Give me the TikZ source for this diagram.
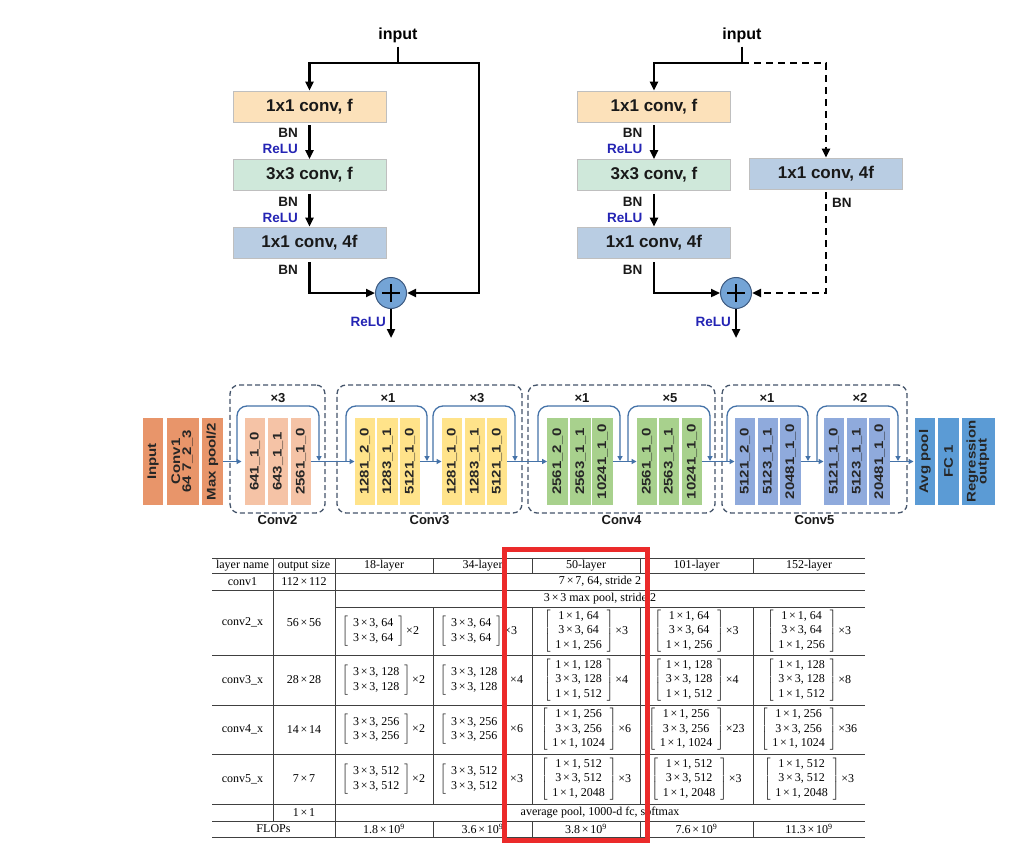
\documentclass[tikz,border=0pt]{standalone}
\usepackage{fontspec}
\setmainfont{Liberation Serif}
\newfontfamily\arial{Liberation Sans}
\usetikzlibrary{arrows.meta}
\definecolor{cA}{HTML}{FCE1BA}
\definecolor{cB}{HTML}{CFE8DA}
\definecolor{cC}{HTML}{B9CDE3}
\definecolor{reluc}{HTML}{2424B4}
\definecolor{sumfill}{HTML}{74A4D6}
\definecolor{sumdraw}{HTML}{3D5A80}
\definecolor{orgdark}{HTML}{E8956A}
\definecolor{orglight}{HTML}{F5C3A6}
\definecolor{yel}{HTML}{FFE38A}
\definecolor{grn}{HTML}{A8D18D}
\definecolor{bluv}{HTML}{8FAADC}
\definecolor{bluf}{HTML}{5B9BD5}
\definecolor{flowc}{HTML}{4472A8}
\definecolor{grpc}{HTML}{44546A}
\definecolor{redc}{HTML}{EB2A2A}
\newcommand\vtxt[1]{\rotatebox{90}{\scalebox{1.2}[1]{#1}}}
\newcommand\mytimes{\hspace{0.15em}×\hspace{0.15em}}
\newcommand\mybrk[2]{$\left[\mbox{\begin{tabular}{@{\hspace{5pt}}c@{\hspace{5pt}}}#1\end{tabular}}\right]$\hspace{2pt}×#2}
\begin{document}
\begin{tikzpicture}[x=1pt,y=-1pt,
  blk/.style={draw=black!25, line width=0.6pt, minimum width=153pt, minimum height=31pt, inner sep=0pt, font=\arial\bfseries\fontsize{17}{17}\selectfont, text=black!90},
  thk/.style={line width=2.4pt, black},
  arr/.style={-{Triangle[length=9pt,width=8pt]}},
  lbl/.style={font=\arial\bfseries\fontsize{13.5}{14}\selectfont, inner sep=0pt, text=black!90},
  relu/.style={lbl, text=reluc},
  inp/.style={font=\arial\bfseries\fontsize{16}{16}\selectfont, inner sep=2pt},
  sumc/.style={circle, minimum size=31pt, inner sep=0pt, fill=sumfill, draw=sumdraw, line width=1pt,
    path picture={\draw[line width=2.6pt,black] ([xshift=-9pt]path picture bounding box.center) -- ([xshift=9pt]path picture bounding box.center) ([yshift=-9pt]path picture bounding box.center) -- ([yshift=9pt]path picture bounding box.center);}},
  dsh/.style={dash pattern=on 7pt off 5pt},
  vb/.style={minimum width=20.5pt, minimum height=87pt, inner sep=0pt, font=\arial\bfseries\fontsize{12.5}{13}\selectfont, text=black!85},
  fl/.style={line width=1.3pt, flowc, -{Triangle[length=5pt,width=5pt]}},
  grp/.style={draw=grpc, line width=1.3pt, dash pattern=on 5pt off 3pt, rounded corners=9pt, minimum height=128pt, inner sep=0pt},
  gl/.style={font=\arial\bfseries\fontsize{13}{14}\selectfont, text=black!90, inner sep=2pt},
  ml/.style={font=\arial\bfseries\fontsize{13}{14}\selectfont, text=black!90, inner sep=0pt},
  tc/.style={font=\fontsize{12}{14.5}\selectfont, inner sep=0pt},
  tl/.style={line width=0.7pt, black!75}
]
\useasboundingbox[fill=white] (0,0) rectangle (1028,848);

% ---------- left bottleneck block ----------
\node[inp] (inL) at (398,35) {input};
\coordinate (jL) at (398,63);
\coordinate (rL) at (479,63);
\node[blk, fill=cA] (b1L) at (309.5,106.5) {1x1 conv, f};
\node[blk, fill=cB] (b2L) at (309.5,175) {3x3 conv, f};
\node[blk, fill=cC] (b3L) at (309.5,242.5) {1x1 conv, 4f};
\node[sumc] (pL) at (391,293) {};
\coordinate (oL) at (391,338);
\draw[thk] ([yshift=-2pt]inL.south) -- (jL);
\draw[thk,arr] (jL) -| (b1L.north);
\draw[thk,arr] (jL) -- (rL) |- (pL.east);
\draw[thk,arr] ([yshift=-3pt]b1L.south) -- (b2L.north);
\draw[thk,arr] ([yshift=-3pt]b2L.south) -- (b3L.north);
\draw[thk,arr] ([yshift=-4pt]b3L.south) |- (pL.west);
\draw[thk,arr] (pL.south) -- (oL);
\node[lbl, anchor=east] (bn1L) at (298,133) {BN};
\node[relu, anchor=east] (rl1L) at (298,149) {ReLU};
\node[lbl, anchor=east] (bn2L) at (298,202) {BN};
\node[relu, anchor=east] (rl2L) at (298,218) {ReLU};
\node[lbl, anchor=east] (bn3L) at (298,270) {BN};
\node[relu, anchor=east] (rl3L) at (386,322) {ReLU};

% ---------- right bottleneck block (projection) ----------
\node[inp] (inR) at (742,35) {input};
\coordinate (jR) at (742,63);
\node[blk, fill=cA] (b1R) at (654,106.5) {1x1 conv, f};
\node[blk, fill=cB] (b2R) at (654,175) {3x3 conv, f};
\node[blk, fill=cC] (b3R) at (654,242.5) {1x1 conv, 4f};
\node[blk, fill=cC] (bsR) at (826,173.5) {1x1 conv, 4f};
\node[sumc] (pR) at (736,293) {};
\coordinate (oR) at (736,338);
\draw[thk] ([yshift=-2pt]inR.south) -- (jR);
\draw[thk,arr] (jR) -| (b1R.north);
\draw[thk,dsh,arr] (jR) -| (bsR.north);
\draw[thk,dsh,arr] ([yshift=-3pt]bsR.south) |- (pR.east);
\draw[thk,arr] ([yshift=-3pt]b1R.south) -- (b2R.north);
\draw[thk,arr] ([yshift=-3pt]b2R.south) -- (b3R.north);
\draw[thk,arr] ([yshift=-4pt]b3R.south) |- (pR.west);
\draw[thk,arr] (pR.south) -- (oR);
\node[lbl, anchor=east] (bn1R) at (642.5,133) {BN};
\node[relu, anchor=east] (rl1R) at (642.5,149) {ReLU};
\node[lbl, anchor=east] (bn2R) at (642.5,202) {BN};
\node[relu, anchor=east] (rl2R) at (642.5,218) {ReLU};
\node[lbl, anchor=east] (bn3R) at (642.5,270) {BN};
\node[lbl, anchor=west] (bnsR) at (832,203) {BN};
\node[relu, anchor=east] (rl3R) at (731,322) {ReLU};

% ---------- ResNet-50 pipeline ----------
\node[grp, minimum width=95pt] (g2) at (277.5,449) {};
\node[grp, minimum width=185pt] (g3) at (429.5,449) {};
\node[grp, minimum width=187pt] (g4) at (621.5,449) {};
\node[grp, minimum width=185pt] (g5) at (814.5,449) {};
\node[gl, anchor=north] (g2l) at (g2.south) {Conv2};
\node[gl, anchor=north] (g3l) at (g3.south) {Conv3};
\node[gl, anchor=north] (g4l) at (g4.south) {Conv4};
\node[gl, anchor=north] (g5l) at (g5.south) {Conv5};

\node[vb, fill=orgdark] (inb) at (153,461.5) {\vtxt{Input}};
\node[vb, fill=orgdark, minimum width=32pt] (cv1) at (183,461.5) {\vtxt{\begin{tabular}{@{}c@{}}Conv1\\[-2pt]64 7\_2\_3\end{tabular}}};
\node[vb, fill=orgdark] (mp) at (212.5,461.5) {\vtxt{Max pool/2}};

\node[vb, fill=orglight] (c2a) at (255,461.5) {\vtxt{641\_1\_0}};
\node[vb, fill=orglight] (c2b) at (278,461.5) {\vtxt{643\_1\_1}};
\node[vb, fill=orglight] (c2c) at (301,461.5) {\vtxt{2561\_1\_0}};

\node[vb, fill=yel] (c3a) at (365,461.5) {\vtxt{1281\_2\_0}};
\node[vb, fill=yel] (c3b) at (387.5,461.5) {\vtxt{1283\_1\_1}};
\node[vb, fill=yel] (c3c) at (410,461.5) {\vtxt{5121\_1\_0}};
\node[vb, fill=yel] (c3d) at (452,461.5) {\vtxt{1281\_1\_0}};
\node[vb, fill=yel] (c3e) at (475,461.5) {\vtxt{1283\_1\_1}};
\node[vb, fill=yel] (c3f) at (497,461.5) {\vtxt{5121\_1\_0}};

\node[vb, fill=grn] (c4a) at (557.5,461.5) {\vtxt{2561\_2\_0}};
\node[vb, fill=grn] (c4b) at (580.5,461.5) {\vtxt{2563\_1\_1}};
\node[vb, fill=grn] (c4c) at (602.5,461.5) {\vtxt{10241\_1\_0}};
\node[vb, fill=grn] (c4d) at (647,461.5) {\vtxt{2561\_1\_0}};
\node[vb, fill=grn] (c4e) at (669,461.5) {\vtxt{2563\_1\_1}};
\node[vb, fill=grn] (c4f) at (692,461.5) {\vtxt{10241\_1\_0}};

\node[vb, fill=bluv] (c5a) at (745,461.5) {\vtxt{5121\_2\_0}};
\node[vb, fill=bluv] (c5b) at (768,461.5) {\vtxt{5123\_1\_1}};
\node[vb, fill=bluv] (c5c) at (790.5,461.5) {\vtxt{20481\_1\_0}};
\node[vb, fill=bluv] (c5d) at (834,461.5) {\vtxt{5121\_1\_0}};
\node[vb, fill=bluv] (c5e) at (857,461.5) {\vtxt{5123\_1\_1}};
\node[vb, fill=bluv] (c5f) at (879.5,461.5) {\vtxt{20481\_1\_0}};

\node[vb, fill=bluf] (avg) at (925,461.5) {\vtxt{Avg pool}};
\node[vb, fill=bluf] (fc) at (948.5,461.5) {\vtxt{FC 1}};
\node[vb, fill=bluf, minimum width=33pt] (reg) at (978.5,461.5) {\vtxt{\begin{tabular}{@{}c@{}}Regression\\[-2pt]output\end{tabular}}};

\draw[fl, shorten >=3pt] (mp.east) -- (c2a.west);
\draw[fl] (c2c.east) -- (c3a.west);
\draw[fl] (c3c.east) -- (c3d.west);
\draw[fl] (c3f.east) -- (c4a.west);
\draw[fl] (c4c.east) -- (c4d.west);
\draw[fl] (c4f.east) -- (c5a.west);
\draw[fl] (c5c.east) -- (c5d.west);
\draw[fl, shorten >=1pt] (c5f.east) -- (avg.west);

\foreach \n/\s/\e in {k2/237/319, k3a/346/427, k3b/433/515, k4a/538/620, k4b/628/710, k5a/727/808, k5b/817/898}{
  \coordinate (\n s) at (\s,461);
  \coordinate (\n e) at (\e,461);
  \draw[fl, rounded corners=10pt] (\n s) -- ++(0,-55) -| (\n e);
}
\node[ml] (m2) at (278,398) {×3};
\node[ml] (m3a) at (388,398) {×1};
\node[ml] (m3b) at (477,398) {×3};
\node[ml] (m4a) at (582,398) {×1};
\node[ml] (m4b) at (670,398) {×5};
\node[ml] (m5a) at (767,398) {×1};
\node[ml] (m5b) at (860,398) {×2};

% ---------- table ----------
\foreach \y in {558,573,590,655,705,754,804,821,837} \draw[tl] (212,\y) -- (865,\y);
\draw[tl] (335,607) -- (865,607);
\draw[tl] (273,558) -- (273,821);
\draw[tl] (335,558) -- (335,837);
\foreach \x in {433,532,640,753}{
  \draw[tl] (\x,558) -- (\x,573);
  \draw[tl] (\x,607) -- (\x,804);
  \draw[tl] (\x,821) -- (\x,837);
}
\node[tc] (h1) at (242.5,565.5) {layer name};
\node[tc] (h2) at (304,565.5) {output size};
\node[tc] (h3) at (384,565.5) {18-layer};
\node[tc] (h4) at (482.5,565.5) {34-layer};
\node[tc] (h5) at (586,565.5) {50-layer};
\node[tc] (h6) at (696.5,565.5) {101-layer};
\node[tc] (h7) at (809,565.5) {152-layer};

\node[tc] (r1a) at (242.5,581.5) {conv1};
\node[tc] (r1b) at (304,581.5) {112\mytimes112};
\node[tc] (r1c) at (600,581.5) {7\mytimes7, 64, stride 2};
\node[tc] (r2m) at (600,598.5) {3\mytimes3 max pool, stride 2};

\node[tc] (r2a) at (242.5,622.5) {conv2\_x};
\node[tc] (r2b) at (304,622.5) {56\mytimes56};
\node[tc, anchor=west] (r2c) at (342,631) {\mybrk{3\mytimes3, 64\\3\mytimes3, 64}{2}};
\node[tc, anchor=west] (r2d) at (440,631) {\mybrk{3\mytimes3, 64\\3\mytimes3, 64}{3}};
\node[tc] (r2e) at (586,631) {\mybrk{1\mytimes1, 64\\3\mytimes3, 64\\1\mytimes1, 256}{3}};
\node[tc] (r2f) at (696.5,631) {\mybrk{1\mytimes1, 64\\3\mytimes3, 64\\1\mytimes1, 256}{3}};
\node[tc] (r2g) at (809,631) {\mybrk{1\mytimes1, 64\\3\mytimes3, 64\\1\mytimes1, 256}{3}};

\node[tc] (r3a) at (242.5,680) {conv3\_x};
\node[tc] (r3b) at (304,680) {28\mytimes28};
\node[tc, anchor=west] (r3c) at (342,680) {\mybrk{3\mytimes3, 128\\3\mytimes3, 128}{2}};
\node[tc, anchor=west] (r3d) at (440,680) {\mybrk{3\mytimes3, 128\\3\mytimes3, 128}{4}};
\node[tc] (r3e) at (586,680) {\mybrk{1\mytimes1, 128\\3\mytimes3, 128\\1\mytimes1, 512}{4}};
\node[tc] (r3f) at (696.5,680) {\mybrk{1\mytimes1, 128\\3\mytimes3, 128\\1\mytimes1, 512}{4}};
\node[tc] (r3g) at (809,680) {\mybrk{1\mytimes1, 128\\3\mytimes3, 128\\1\mytimes1, 512}{8}};

\node[tc] (r4a) at (242.5,729.5) {conv4\_x};
\node[tc] (r4b) at (304,729.5) {14\mytimes14};
\node[tc, anchor=west] (r4c) at (342,729.5) {\mybrk{3\mytimes3, 256\\3\mytimes3, 256}{2}};
\node[tc, anchor=west] (r4d) at (440,729.5) {\mybrk{3\mytimes3, 256\\3\mytimes3, 256}{6}};
\node[tc] (r4e) at (586,729.5) {\mybrk{1\mytimes1, 256\\3\mytimes3, 256\\1\mytimes1, 1024}{6}};
\node[tc] (r4f) at (696.5,729.5) {\mybrk{1\mytimes1, 256\\3\mytimes3, 256\\1\mytimes1, 1024}{23}};
\node[tc] (r4g) at (809,729.5) {\mybrk{1\mytimes1, 256\\3\mytimes3, 256\\1\mytimes1, 1024}{36}};

\node[tc] (r5a) at (242.5,779) {conv5\_x};
\node[tc] (r5b) at (304,779) {7\mytimes7};
\node[tc, anchor=west] (r5c) at (342,779) {\mybrk{3\mytimes3, 512\\3\mytimes3, 512}{2}};
\node[tc, anchor=west] (r5d) at (440,779) {\mybrk{3\mytimes3, 512\\3\mytimes3, 512}{3}};
\node[tc] (r5e) at (586,779) {\mybrk{1\mytimes1, 512\\3\mytimes3, 512\\1\mytimes1, 2048}{3}};
\node[tc] (r5f) at (696.5,779) {\mybrk{1\mytimes1, 512\\3\mytimes3, 512\\1\mytimes1, 2048}{3}};
\node[tc] (r5g) at (809,779) {\mybrk{1\mytimes1, 512\\3\mytimes3, 512\\1\mytimes1, 2048}{3}};

\node[tc] (r6b) at (304,812.5) {1\mytimes1};
\node[tc] (r6c) at (600,812.5) {average pool, 1000-d fc, softmax};

\node[tc] (r7a) at (273.5,829) {FLOPs};
\node[tc] (r7c) at (384,829) {1.8\mytimes10\textsuperscript{9}};
\node[tc] (r7d) at (482.5,829) {3.6\mytimes10\textsuperscript{9}};
\node[tc] (r7e) at (586,829) {3.8\mytimes10\textsuperscript{9}};
\node[tc] (r7f) at (696.5,829) {7.6\mytimes10\textsuperscript{9}};
\node[tc] (r7g) at (809,829) {11.3\mytimes10\textsuperscript{9}};

\draw[line width=5pt, redc] (504.5,549.5) rectangle (647.5,840.5);
\end{tikzpicture}
\end{document}
